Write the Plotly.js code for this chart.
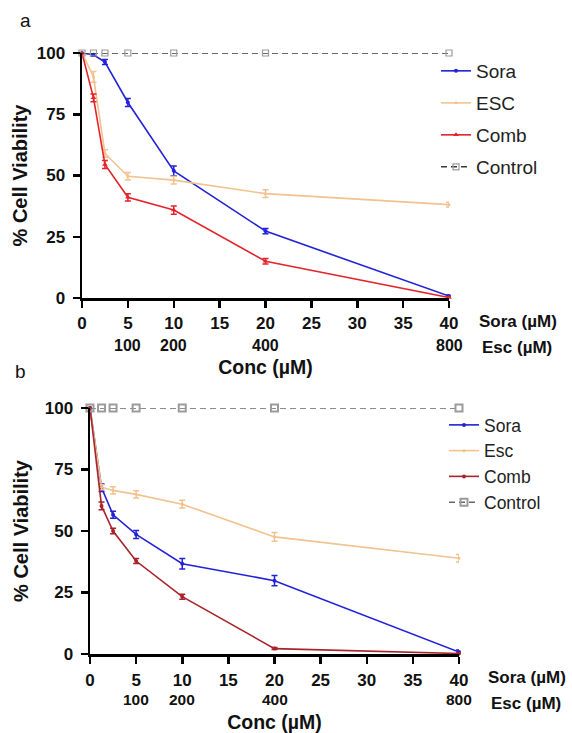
<!DOCTYPE html>
<html>
<head>
<meta charset="utf-8">
<script src="https://cdn.plot.ly/plotly-3.0.1.min.js"></script>
<style>html,body{margin:0;padding:0;background:#fff;}#chart{width:572px;height:733px;}</style>
</head>
<body>
<div id="chart"></div>
<script>
// ---- data ----
const conc = [0, 1.25, 2.5, 5, 10, 20, 40];           // Sora concentration (µM)
const xTicks = [0, 5, 10, 15, 20, 25, 30, 35, 40];
const escTickPos = [5, 10, 20, 40];
const escTickText = ['100', '200', '400', '800'];     // Esc concentration (µM)
const yTicks = [0, 25, 50, 75, 100];

// Panel a
const soraA = [100, 99.3, 96.3, 79.8, 51.9, 27.3, 0.8];
const soraAErr = [0, 0.6, 1.0, 1.6, 2.0, 1.1, 0.4];
const escA = [100, 90.3, 59.0, 49.7, 48.1, 42.6, 38.1];
const escAErr = [0, 2.2, 1.5, 1.5, 1.6, 1.6, 1.0];
const combA = [100, 81.7, 54.5, 41.1, 35.9, 15.0, 0.2];
const combAErr = [0, 1.6, 1.6, 1.5, 1.7, 1.1, 0.3];
const ctrlA = [100, 100, 100, 100, 100, 100, 100];

// Panel b
const soraB = [100, 67.6, 56.6, 48.6, 36.7, 29.8, 0.8];
const soraBErr = [0, 1.5, 1.4, 1.6, 2.1, 2.1, 0.8];
const escB = [100, 67.8, 66.5, 64.9, 60.9, 47.6, 38.9];
const escBErr = [0, 1.0, 1.5, 1.5, 1.6, 1.8, 1.5];
const combB = [100, 60.2, 50.0, 37.8, 23.3, 2.2, 0.2];
const combBErr = [0, 1.6, 1.1, 1.0, 1.0, 0.4, 0.2];
const ctrlB = [100, 100, 100, 100, 100, 100, 100];

// ---- styles ----
const FONT = 'Liberation Sans, Arial, Helvetica, sans-serif';
const BLUE = '#2222D8';
const TAN = '#F2C28F';
const REDA = '#E5232B';
const REDB = '#A8232A';
const GREY = '#9b9b9b';

function line(x, y, err, name, color, symbol, msize, xa, ya, legend, group) {
  return {
    type: 'scatter', mode: 'lines+markers', x: x, y: y, name: name,
    xaxis: xa, yaxis: ya, legend: legend, legendgroup: group,
    line: {color: color, width: 1.6},
    marker: {color: color, symbol: symbol, size: msize},
    error_y: {type: 'data', array: err, visible: true, color: color, thickness: 1.5, width: 3},
    cliponaxis: false
  };
}
function ctrl(x, y, xa, ya, legend, group, msize, lw, dashColor) {
  return {
    type: 'scatter', mode: 'lines+markers', x: x, y: y, name: 'Control',
    xaxis: xa, yaxis: ya, legend: legend, legendgroup: group,
    line: {color: dashColor, width: 1.5, dash: '6px,4px'},
    marker: {color: GREY, symbol: 'square-open', size: msize, line: {width: lw, color: GREY}},
    cliponaxis: false
  };
}

const traces = [
  line(conc, soraA, soraAErr, 'Sora', BLUE, 'circle', 4, 'x', 'y', 'legend', 'a1'),
  line(conc, escA, escAErr, 'ESC', TAN, 'circle', 3, 'x', 'y', 'legend', 'a2'),
  line(conc, combA, combAErr, 'Comb', REDA, 'triangle-up', 5, 'x', 'y', 'legend', 'a3'),
  ctrl(conc, ctrlA, 'x', 'y', 'legend', 'a4', 6, 1.2, '#3a3a3a'),
  line(conc, soraB, soraBErr, 'Sora', BLUE, 'circle', 4, 'x2', 'y2', 'legend2', 'b1'),
  line(conc, escB, escBErr, 'Esc', TAN, 'circle', 3, 'x2', 'y2', 'legend2', 'b2'),
  line(conc, combB, combBErr, 'Comb', REDB, 'circle', 4, 'x2', 'y2', 'legend2', 'b3'),
  ctrl(conc, ctrlB, 'x2', 'y2', 'legend2', 'b4', 7, 2, '#666666')
];

const tickFont = {family: FONT, size: 17, weight: 'bold', color: '#111'};
const titleFont = {family: FONT, size: 20, weight: 'bold', color: '#111'};
const xTitleFont = {family: FONT, size: 19.5, weight: 'bold', color: '#111'};

function xaxis(domain, anchor, lblStandoff, titleStandoff) {
  return {
    domain: domain, anchor: anchor, range: [0, 40], tickvals: xTicks,
    showline: true, linecolor: '#000', linewidth: 2.5, ticks: 'outside', ticklen: 7, tickwidth: 2.5, tickcolor: '#000',
    showgrid: false, zeroline: false, tickfont: tickFont, ticklabelstandoff: lblStandoff,
    title: {text: 'Conc (µM)', font: xTitleFont, standoff: titleStandoff}
  };
}
function yaxis(domain, anchor, titleStandoff) {
  return {
    domain: domain, anchor: anchor, range: [0, 100], tickvals: yTicks,
    showline: true, linecolor: '#000', linewidth: 2.5, ticks: 'outside', ticklen: 7, tickwidth: 2.5, tickcolor: '#000',
    showgrid: false, zeroline: false, tickfont: tickFont, ticklabelstandoff: 4,
    title: {text: '% Cell Viability', font: titleFont, standoff: titleStandoff}
  };
}

const annotations = [];
const lblFont = {family: FONT, size: 17, weight: 'bold', color: '#111'};
const row2FontA = {family: FONT, size: 16, weight: 'bold', color: '#111'};
const row2FontB = {family: FONT, size: 15.5, weight: 'bold', color: '#111'};
escTickPos.forEach((p, i) => {
  annotations.push({xref: 'x', yref: 'paper', x: p, y: 1 - 345 / 733, text: escTickText[i], showarrow: false, font: row2FontA, xanchor: 'center', yanchor: 'middle'});
  annotations.push({xref: 'x2', yref: 'paper', x: p, y: 1 - 699 / 733, text: escTickText[i], showarrow: false, font: row2FontB, xanchor: 'center', yanchor: 'middle'});
});
annotations.push(
  {xref: 'paper', yref: 'paper', x: 477 / 572, y: 1 - 321 / 733, text: 'Sora (µM)', showarrow: false, font: lblFont, xanchor: 'left', yanchor: 'middle'},
  {xref: 'paper', yref: 'paper', x: 480 / 572, y: 1 - 347 / 733, text: 'Esc (µM)', showarrow: false, font: lblFont, xanchor: 'left', yanchor: 'middle'},
  {xref: 'paper', yref: 'paper', x: 486 / 572, y: 1 - 677 / 733, text: 'Sora (µM)', showarrow: false, font: lblFont, xanchor: 'left', yanchor: 'middle'},
  {xref: 'paper', yref: 'paper', x: 489 / 572, y: 1 - 703 / 733, text: 'Esc (µM)', showarrow: false, font: lblFont, xanchor: 'left', yanchor: 'middle'},
  {xref: 'paper', yref: 'paper', x: 25 / 572, y: 1 - 21 / 733, text: 'a', showarrow: false, font: {family: FONT, size: 19, color: '#111'}, xanchor: 'center', yanchor: 'middle'},
  {xref: 'paper', yref: 'paper', x: 20 / 572, y: 1 - 371 / 733, text: 'b', showarrow: false, font: {family: FONT, size: 19, color: '#111'}, xanchor: 'center', yanchor: 'middle'}
);

const layout = {
  width: 572, height: 733,
  margin: {l: 0, r: 0, t: 0, b: 0},
  paper_bgcolor: '#fff', plot_bgcolor: 'rgba(0,0,0,0)',
  showlegend: true,
  xaxis: xaxis([82 / 572, 449 / 572], 'y', 1, 29),
  yaxis: yaxis([1 - 298 / 733, 1 - 53 / 733], 'x', 4),
  xaxis2: xaxis([90 / 572, 459 / 572], 'y2', 2, 36),
  yaxis2: yaxis([1 - 654 / 733, 1 - 408 / 733], 'x2', 11),
  legend: {x: 436 / 572, y: 1 - 52 / 733, xanchor: 'left', yanchor: 'top', bgcolor: 'rgba(0,0,0,0)',
           font: {family: FONT, size: 19, color: '#222'}, tracegroupgap: 4.3, traceorder: 'grouped'},
  legend2: {x: 444 / 572, y: 1 - 407 / 733, xanchor: 'left', yanchor: 'top', bgcolor: 'rgba(0,0,0,0)',
            font: {family: FONT, size: 17.5, color: '#222'}, tracegroupgap: 0, traceorder: 'grouped'},
  annotations: annotations
};

Plotly.newPlot('chart', traces, layout, {displayModeBar: false, staticPlot: true});
</script>
</body>
</html>
